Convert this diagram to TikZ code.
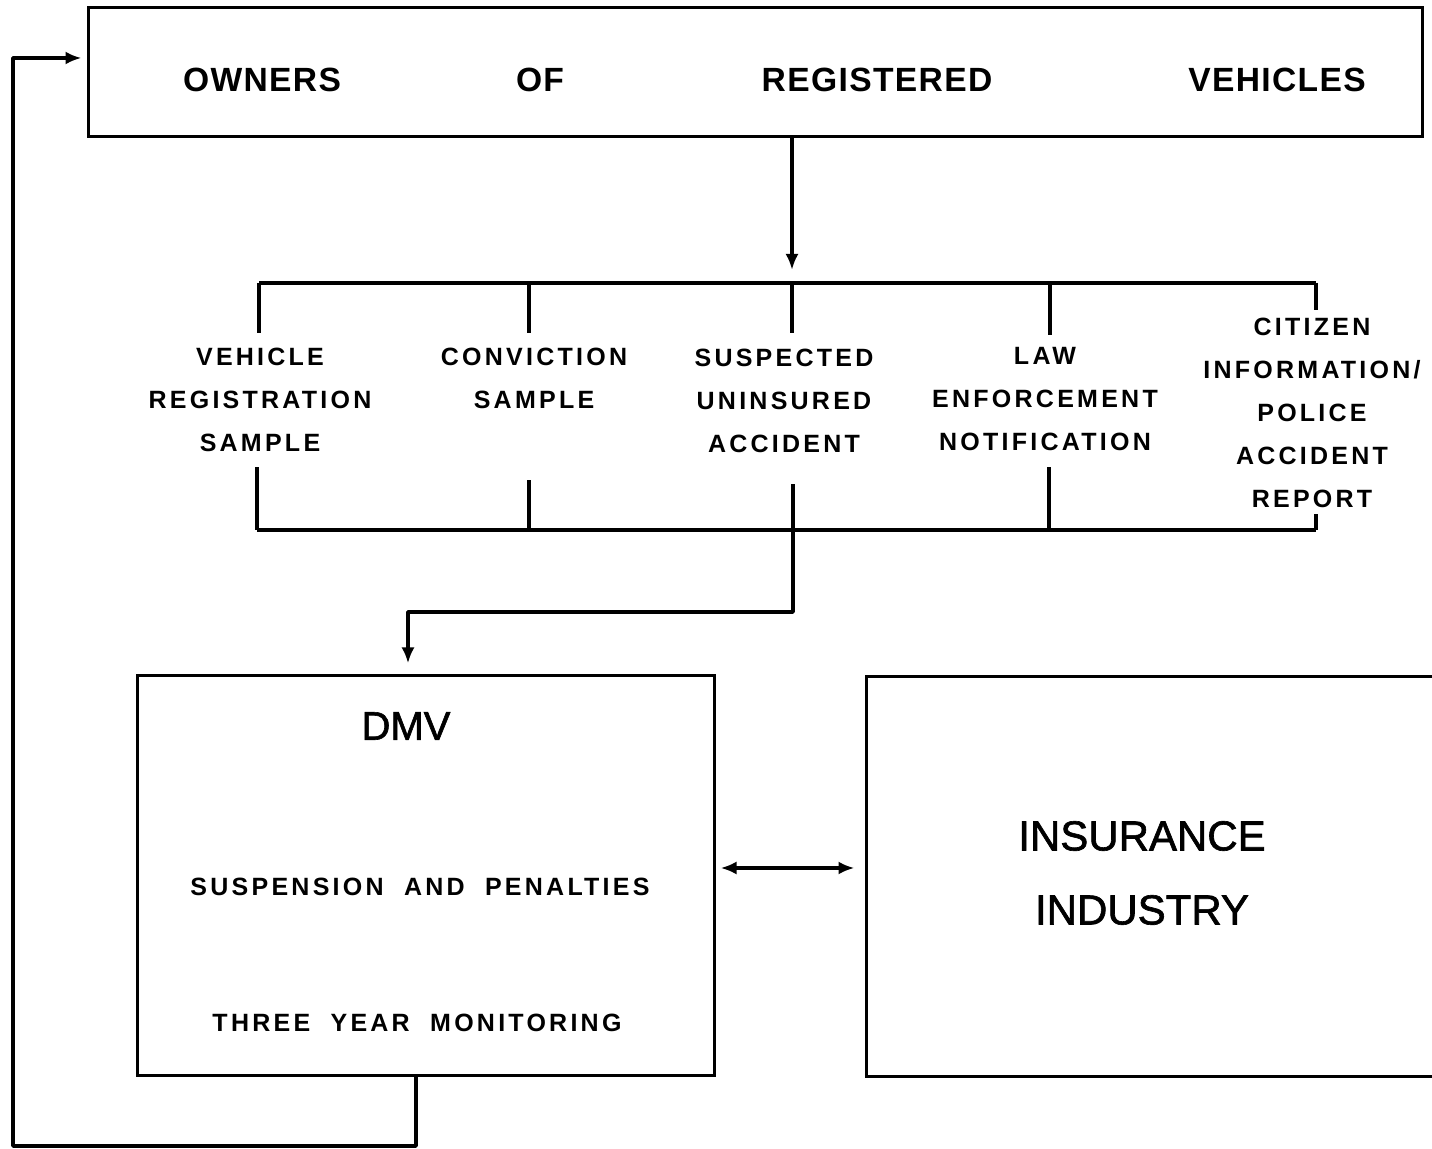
\documentclass[tikz,border=0pt]{standalone}
\usepackage{fontspec}
\setmainfont{Liberation Sans}
\newfontfamily\labfam[LetterSpace=13]{Liberation Sans}
\newfontfamily\topfam[LetterSpace=4]{Liberation Sans}
\newfontfamily\medfam[FakeBold=1.5]{Liberation Sans}
\usetikzlibrary{arrows.meta}
\begin{document}
\begin{tikzpicture}[x=0.5pt,y=-0.5pt,
  box/.style={draw, line width=1.5pt, inner sep=0pt},
  conn/.style={line width=1.8pt},
  tip/.style={},
  arr/.style={conn,-{Latex[length=8pt,width=6.5pt]}},
  dbl/.style={conn,{Latex[length=8pt,width=6.5pt]}-{Latex[length=8pt,width=6.5pt]}},
  lab/.style={align=center, inner sep=0pt, font=\labfam\bfseries\fontsize{12.5}{21.5}\selectfont},
  toptxt/.style={inner sep=0pt, font=\topfam\bfseries\fontsize{16.8}{20}\selectfont},
  big/.style={align=center, inner sep=0pt, font=\medfam\fontsize{21}{37}\selectfont},
]
\useasboundingbox (0,0) rectangle (1432,1149);

% top box
\node[box, minimum width=667pt, minimum height=64.5pt] (top) at (755,72.5) {};
\node[toptxt] (w1) at (262,80) {OWNERS};
\node[toptxt] (w2) at (540,80) {OF};
\node[toptxt] (w3) at (877,80) {REGISTERED};
\node[toptxt] (w4) at (1277,80) {VEHICLES};

% bus coordinates
\coordinate (t1) at (259,283);
\coordinate (t2) at (529,283);
\coordinate (t3) at (792,283);
\coordinate (t4) at (1050,283);
\coordinate (t5) at (1316,283);
\coordinate (b1) at (257,530);
\coordinate (b2) at (529,530);
\coordinate (b3) at (793,530);
\coordinate (b4) at (1049,530);
\coordinate (b5) at (1316,530);

% labels
\node[lab] (l1) at (260,400) {VEHICLE\\REGISTRATION\\SAMPLE};
\node[lab] (l2) at (534,378) {CONVICTION\\SAMPLE};
\node[lab] (l3) at (784,401) {SUSPECTED\\UNINSURED\\ACCIDENT};
\node[lab] (l4) at (1045,399) {LAW\\ENFORCEMENT\\NOTIFICATION};
\node[lab] (l5) at (1312,413) {CITIZEN\\INFORMATION/\\POLICE\\ACCIDENT\\REPORT};

% arrow from top box to bus
\draw[arr] (top.south -| t3) -- ([yshift=6.5pt]t3);

% top bus
\draw[conn, line join=round] (t1) -- (t5);
\draw[conn] (t1) -- ++(0,50);
\draw[conn] (t2) -- ++(0,50);
\draw[conn] (t3) -- ++(0,50);
\draw[conn] (t4) -- ++(0,52);
\draw[conn] (t5) -- ++(0,27);

% bottom bus
\draw[conn] (b1) -- (b5);
\draw[conn] (b1) -- ++(0,-63);
\draw[conn] (b2) -- ++(0,-50);
\draw[conn] (b3) -- ++(0,-46);
\draw[conn] (b4) -- ++(0,-63);
\draw[conn] (b5) -- ++(0,-16);

% DMV box
\node[box, minimum width=288.5pt, minimum height=200pt] (dmv) at (425.5,876) {};
\node[inner sep=0pt, font=\medfam\fontsize{20}{24}\selectfont] (dmvt) at (406,726) {DMV};
\node[lab] (sp) at (420,887) {SUSPENSION \ AND \ PENALTIES};
\node[lab] (ty) at (417,1023) {THREE \ YEAR \ MONITORING};

% insurance box
\node[box, minimum width=290pt, minimum height=200pt] (ins) at (1156,877) {};
\node[big] (inst) at (1142,873) {INSURANCE\\INDUSTRY};

% bus to DMV
\coordinate (j) at (408,612);
\draw[arr, line join=round] (b3) |- (j) -- (j |- dmv.north) [shorten >=5.5pt];

% DMV <-> insurance
\draw[dbl] ([yshift=4pt]dmv.east) -- ([yshift=4pt]dmv.east -| ins.west)[shorten <=2.5pt, shorten >=5pt];

% feedback loop
\coordinate (fa) at (416,1146);
\coordinate (fb) at (13,1146);
\draw[arr, line join=round] (dmv.south -| fa) -- (fa) -- (fb) |- ([yshift=7.25pt]top.west) [shorten >=2.5pt];
\end{tikzpicture}
\end{document}
